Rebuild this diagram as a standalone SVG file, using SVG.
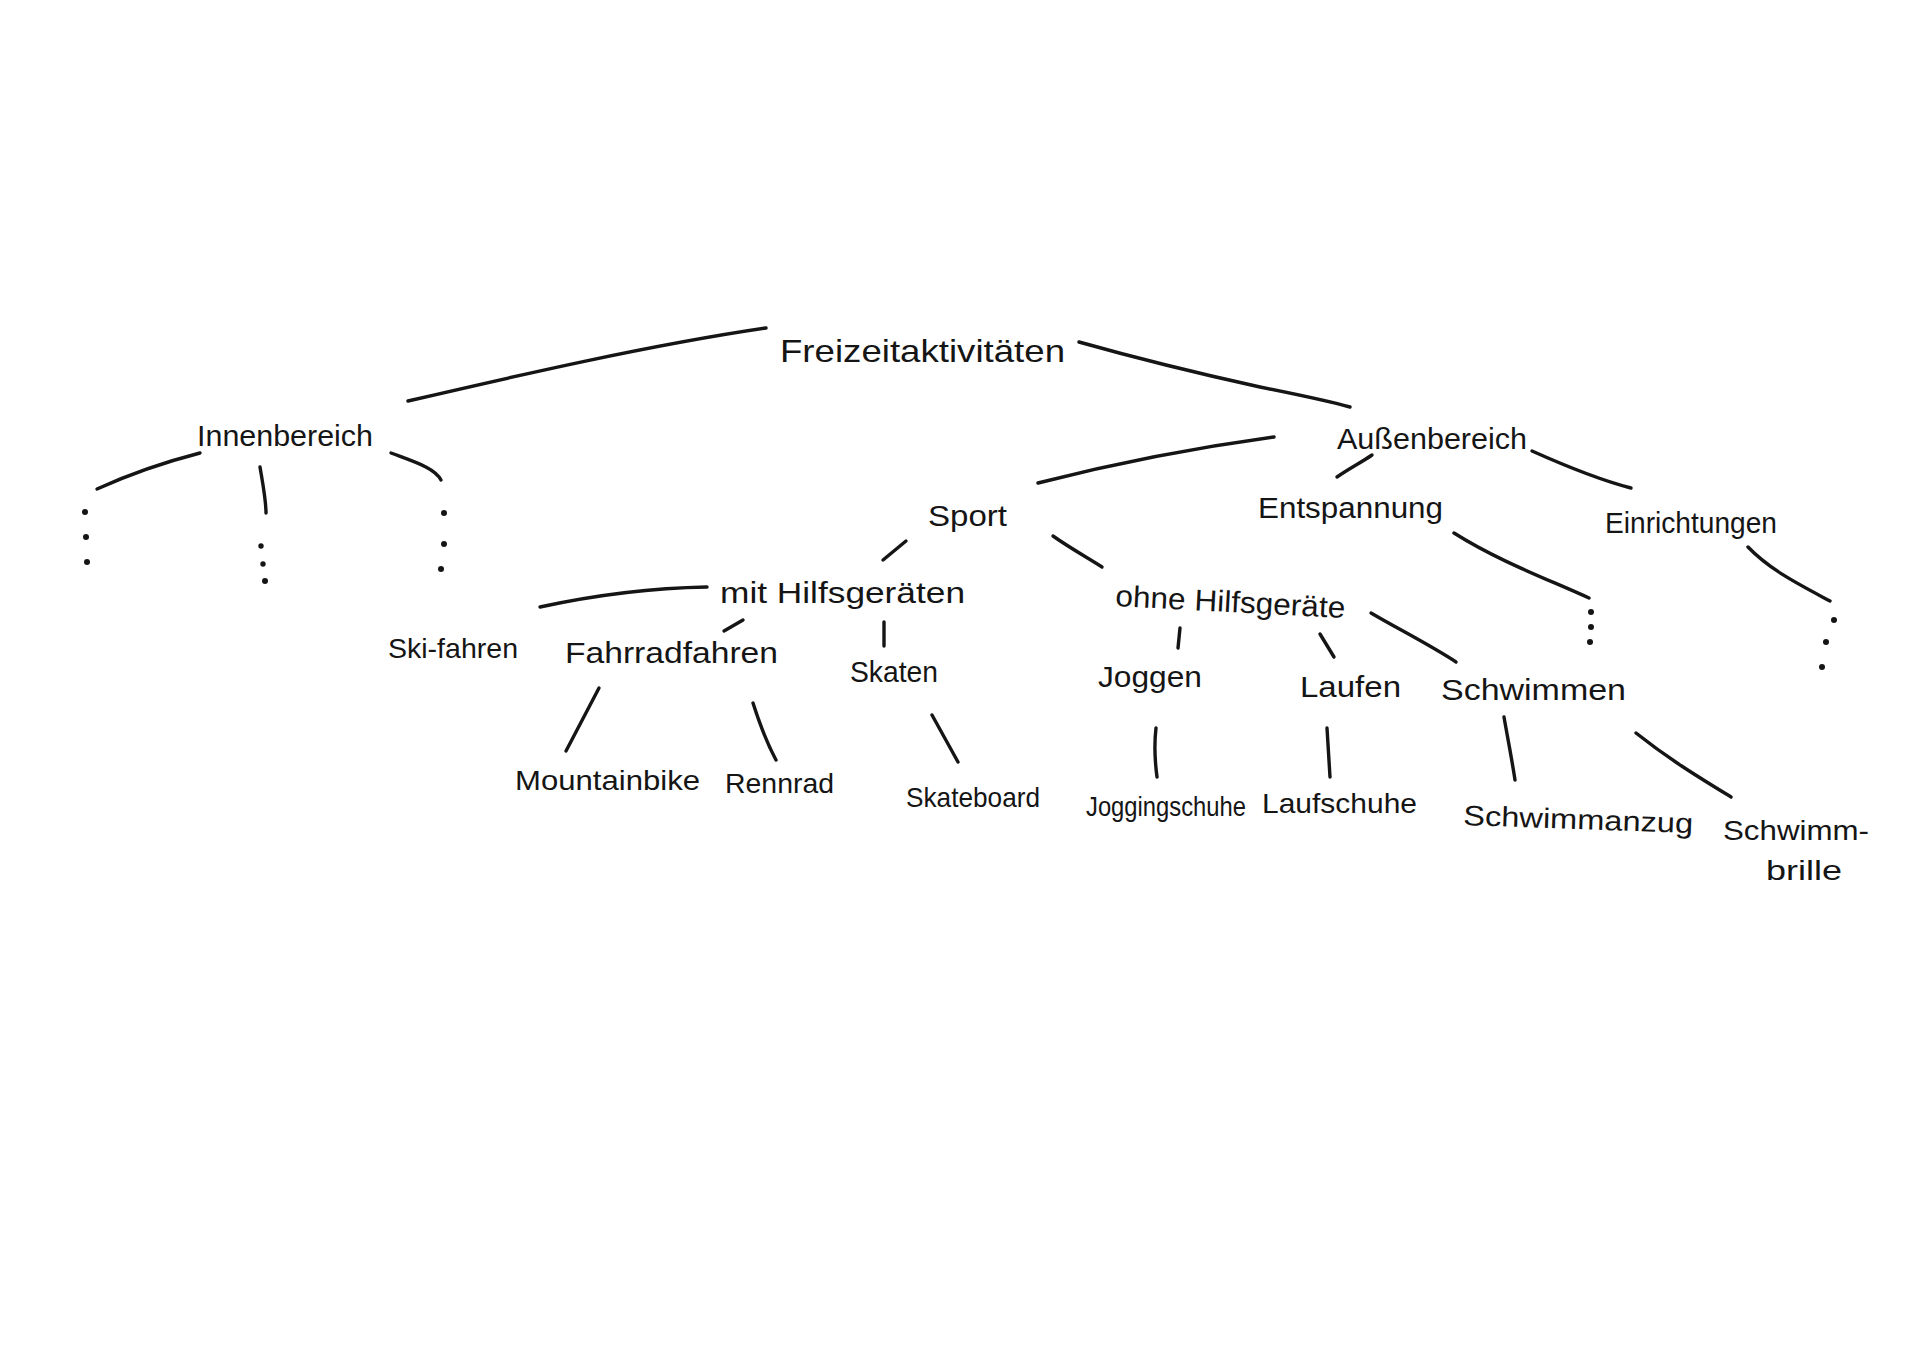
<svg xmlns="http://www.w3.org/2000/svg" width="1920" height="1358" viewBox="0 0 1920 1358">
<style>
  .t { font-family: "Liberation Sans", "DejaVu Sans", sans-serif; font-size: 30px; fill: #151515; }
  .s { font-size: 28px; }
  .c { fill: none; stroke: #151515; stroke-width: 3.4; stroke-linecap: round; }
  .d { fill: #151515; }
</style>
<rect width="1920" height="1358" fill="#ffffff"/>
<g id="connectors">
  <path class="c" d="M408,401 C520,375 650,345 766,328"/>
  <path class="c" d="M1079,342 C1150,362 1210,376 1260,387 C1300,395 1325,400 1350,407"/>
  <path class="c" d="M97,489 C130,474 165,462 200,453"/>
  <path class="c" d="M260,467 C263,485 266,500 266,513"/>
  <path class="c" d="M391,453 C415,462 435,468 441,480"/>
  <path class="c" d="M1038,483 C1120,462 1200,447 1274,437"/>
  <path class="c" d="M1337,477 C1350,468 1362,462 1372,455"/>
  <path class="c" d="M1532,451 C1570,468 1600,480 1631,488"/>
  <path class="c" d="M883,560 L906,541"/>
  <path class="c" d="M1053,536 C1070,548 1088,558 1102,567"/>
  <path class="c" d="M1454,533 C1500,562 1550,580 1589,598"/>
  <path class="c" d="M1748,547 C1770,570 1800,585 1830,601"/>
  <path class="c" d="M540,607 C600,594 650,588 707,587"/>
  <path class="c" d="M724,631 L743,620"/>
  <path class="c" d="M884,622 L884,646"/>
  <path class="c" d="M1180,628 L1178,648"/>
  <path class="c" d="M1320,634 L1334,657"/>
  <path class="c" d="M1371,613 C1400,630 1430,645 1456,662"/>
  <path class="c" d="M599,688 L566,751"/>
  <path class="c" d="M753,703 C760,725 768,745 776,760"/>
  <path class="c" d="M932,715 L958,762"/>
  <path class="c" d="M1156,728 C1154,745 1155,762 1157,777"/>
  <path class="c" d="M1327,728 C1328,745 1329,762 1330,777"/>
  <path class="c" d="M1504,717 C1508,740 1512,760 1515,780"/>
  <path class="c" d="M1636,733 C1670,760 1700,778 1731,797"/>
</g>
<g id="dots">
  <circle class="d" cx="85" cy="512" r="3"/>
  <circle class="d" cx="86" cy="537" r="3"/>
  <circle class="d" cx="87" cy="562" r="3"/>
  <circle class="d" cx="261" cy="546" r="2.7"/>
  <circle class="d" cx="263" cy="564" r="2.7"/>
  <circle class="d" cx="265" cy="581" r="3"/>
  <circle class="d" cx="444" cy="513" r="3"/>
  <circle class="d" cx="444" cy="544" r="3"/>
  <circle class="d" cx="441" cy="569" r="3"/>
  <circle class="d" cx="1591" cy="612" r="3"/>
  <circle class="d" cx="1591" cy="627" r="3"/>
  <circle class="d" cx="1590" cy="642" r="3"/>
  <circle class="d" cx="1834" cy="620" r="3"/>
  <circle class="d" cx="1826" cy="642" r="3"/>
  <circle class="d" cx="1822" cy="667" r="3"/>
</g>
<g id="n-freizeit"><text class="t" x="780" y="362" textLength="285" lengthAdjust="spacingAndGlyphs" style="font-size:32px">Freizeitaktivitäten</text></g>
<g id="n-innen"><text class="t" x="197" y="446" textLength="176" lengthAdjust="spacingAndGlyphs">Innenbereich</text></g>
<g id="n-aussen"><text class="t" x="1337" y="449" textLength="190" lengthAdjust="spacingAndGlyphs">Außenbereich</text></g>
<g id="n-sport"><text class="t" x="928" y="526" textLength="79" lengthAdjust="spacingAndGlyphs">Sport</text></g>
<g id="n-entspannung"><text class="t" x="1258" y="518" textLength="185" lengthAdjust="spacingAndGlyphs">Entspannung</text></g>
<g id="n-einrichtungen"><text class="t" x="1605" y="533" textLength="172" lengthAdjust="spacingAndGlyphs">Einrichtungen</text></g>
<g id="n-mit"><text class="t" x="720" y="603" textLength="245" lengthAdjust="spacingAndGlyphs">mit Hilfsgeräten</text></g>
<g id="n-ohne"><text class="t" x="1115" y="606" textLength="230" lengthAdjust="spacingAndGlyphs" transform="rotate(3 1115 606)">ohne Hilfsgeräte</text></g>
<g id="n-ski"><text class="t s" x="388" y="658" textLength="130" lengthAdjust="spacingAndGlyphs">Ski-fahren</text></g>
<g id="n-fahrrad"><text class="t" x="565" y="663" textLength="213" lengthAdjust="spacingAndGlyphs">Fahrradfahren</text></g>
<g id="n-skaten"><text class="t" x="850" y="682" textLength="88" lengthAdjust="spacingAndGlyphs">Skaten</text></g>
<g id="n-joggen"><text class="t" x="1098" y="687" textLength="104" lengthAdjust="spacingAndGlyphs">Joggen</text></g>
<g id="n-laufen"><text class="t" x="1300" y="697" textLength="101" lengthAdjust="spacingAndGlyphs">Laufen</text></g>
<g id="n-schwimmen"><text class="t" x="1441" y="700" textLength="185" lengthAdjust="spacingAndGlyphs">Schwimmen</text></g>
<g id="n-mountainbike"><text class="t s" x="515" y="790" textLength="185" lengthAdjust="spacingAndGlyphs">Mountainbike</text></g>
<g id="n-rennrad"><text class="t s" x="725" y="793" textLength="109" lengthAdjust="spacingAndGlyphs">Rennrad</text></g>
<g id="n-skateboard"><text class="t s" x="906" y="807" textLength="134" lengthAdjust="spacingAndGlyphs">Skateboard</text></g>
<g id="n-joggingschuhe"><text class="t s" x="1086" y="816" textLength="160" lengthAdjust="spacingAndGlyphs">Joggingschuhe</text></g>
<g id="n-laufschuhe"><text class="t s" x="1262" y="813" textLength="155" lengthAdjust="spacingAndGlyphs">Laufschuhe</text></g>
<g id="n-schwimmanzug"><text class="t s" x="1463" y="825" textLength="230" lengthAdjust="spacingAndGlyphs" transform="rotate(2 1463 825)">Schwimmanzug</text></g>
<g id="n-schwimmbrille"><text class="t s" x="1723" y="840" textLength="146" lengthAdjust="spacingAndGlyphs">Schwimm-</text><text class="t s" x="1766" y="880" textLength="76" lengthAdjust="spacingAndGlyphs">brille</text></g>
</svg>
